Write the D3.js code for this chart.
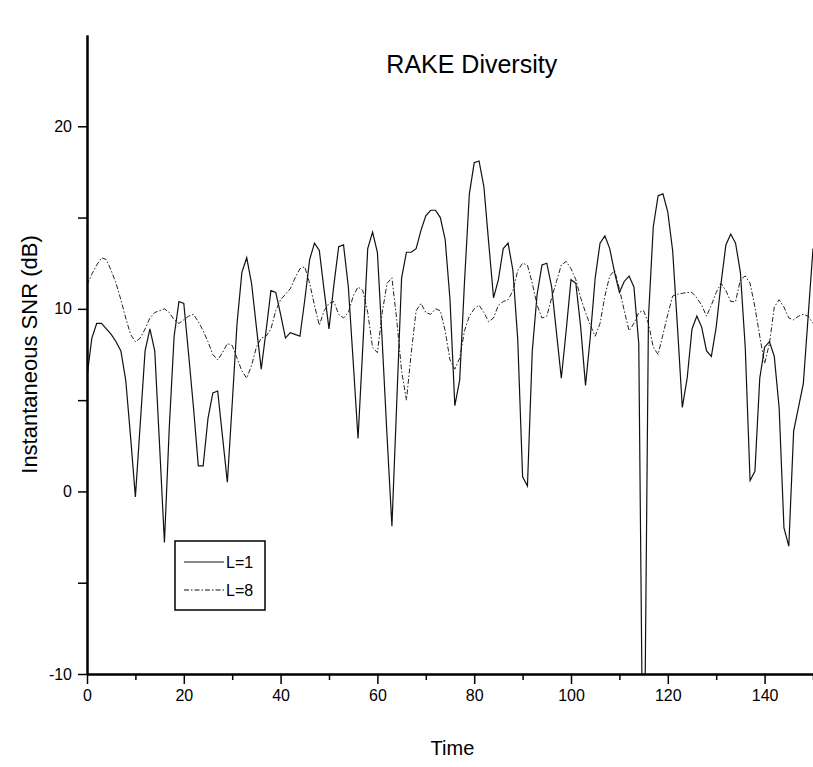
<!DOCTYPE html>
<html>
<head>
<meta charset="utf-8">
<script src="https://cdn.jsdelivr.net/npm/d3@7"></script>
<style>
  body { margin: 0; background: #fff; }
  text { font-family: "Liberation Sans", Arial, sans-serif; fill: #000; }
</style>
</head>
<body>
<div id="my_dataviz"></div>
<script>
// values, one sample per time step (t = 0..150)
var snr_L1 = [6.3, 8.4, 9.2, 9.2, 8.9, 8.6, 8.2, 7.7, 6.1, 3.0,
  -0.3, 3.7, 7.7, 8.9, 7.7, 2.5, -2.8, 3.5, 8.5, 10.4,
  10.3, 7.5, 4.6, 1.4, 1.4, 4.0, 5.4, 5.5, 3.0, 0.5,
  4.8, 9.2, 12.0, 12.8, 11.4, 9.0, 6.7, 8.8, 11.0, 10.9,
  9.7, 8.4, 8.7, 8.6, 8.5, 10.5, 12.7, 13.6, 13.2, 11.0,
  8.9, 11.3, 13.4, 13.5, 11.2, 7.1, 2.9, 8.0, 13.3, 14.2,
  13.1, 8.2, 3.0, -1.9, 4.9, 11.7, 13.1, 13.1, 13.3, 14.3,
  15.1, 15.4, 15.4, 15.0, 13.8, 10.5, 4.7, 6.1, 11.5, 16.3,
  18.0, 18.1, 16.7, 13.6, 10.6, 11.6, 13.3, 13.6, 12.1, 8.3,
  0.8, 0.3, 7.7, 10.8, 12.4, 12.5, 11.2, 8.7, 6.2, 8.8,
  11.6, 11.4, 9.0, 5.8, 8.5, 11.7, 13.6, 14.0, 13.3, 12.0,
  10.9, 11.5, 11.8, 11.2, 8.1, -20.0, 9.5, 14.5, 16.2, 16.3,
  15.3, 13.2, 9.0, 4.6, 6.2, 8.9, 9.6, 9.0, 7.7, 7.4,
  9.0, 11.4, 13.5, 14.1, 13.6, 12.0, 7.9, 0.6, 1.1, 6.2,
  7.9, 8.2, 7.4, 4.6, -2.0, -3.0, 3.3, 4.6, 5.9, 9.6,
  13.3];

var snr_L8 = [11.3, 11.9, 12.4, 12.8, 12.7, 12.1, 11.4, 10.5, 9.5, 8.6,
  8.2, 8.4, 8.9, 9.5, 9.8, 9.9, 10.0, 9.8, 9.4, 9.2,
  9.4, 9.6, 9.7, 9.3, 8.8, 8.2, 7.5, 7.2, 7.6, 8.1,
  8.0, 7.3, 6.6, 6.2, 6.9, 7.9, 8.4, 8.5, 8.9, 9.9,
  10.5, 10.8, 11.1, 11.7, 12.2, 12.3, 11.4, 10.2, 9.1, 9.9,
  10.3, 10.4, 9.7, 9.5, 9.8, 10.7, 11.2, 11.0, 9.8, 7.9,
  7.6, 9.8, 11.4, 11.7, 9.4, 6.6, 5.0, 7.6, 9.9, 10.3,
  9.8, 9.7, 10.0, 9.9, 8.8, 7.2, 6.7, 7.3, 8.8, 9.6,
  10.0, 10.2, 9.8, 9.3, 9.5, 10.2, 10.4, 10.5, 11.0, 12.1,
  12.5, 12.4, 11.4, 10.2, 9.5, 9.6, 10.6, 11.5, 12.4, 12.6,
  12.2, 11.6, 10.6, 9.8, 9.1, 8.5, 9.2, 10.7, 11.8, 12.1,
  11.1, 9.9, 8.8, 9.2, 9.8, 9.9, 9.2, 7.9, 7.5, 8.6,
  9.7, 10.7, 10.8, 10.85, 10.9, 10.9, 10.6, 10.2, 9.6, 10.2,
  10.9, 11.4, 11.0, 10.4, 10.4, 11.6, 11.8, 11.4, 10.1, 8.5,
  7.0, 8.1, 10.1, 10.5, 10.1, 9.5, 9.4, 9.6, 9.7, 9.6,
  9.2];

var xTicks = [0, 20, 40, 60, 80, 100, 120, 140];
var xMinorTicks = [10, 30, 50, 70, 90, 110, 130, 150];
var yTicks = [-10, 0, 10, 20];
var yMinorTicks = [-5, 5, 15];
var seriesNames = ["L=1", "L=8"];

var margin = {top: 35, right: 0, bottom: 93, left: 87},
width = 813 - margin.left - margin.right,
height = 767 - margin.top - margin.bottom;

document.addEventListener('DOMContentLoaded', function () {
   drawChart();
});

function drawChart() {
    var svg = d3.select("#my_dataviz")
    .append("svg")
    .attr("width", width + margin.left + margin.right)
    .attr("height", height + margin.top + margin.bottom)
    .append("g")
    .attr("transform", "translate(" + margin.left + "," + margin.top + ")");

    var x = d3.scaleLinear().domain([0, 150]).range([0, width]);
    var y = d3.scaleLinear().domain([-10, 25]).range([height, 0]);

    svg.append("clipPath").attr("id", "plotclip")
      .append("rect").attr("x", 0).attr("y", 0).attr("width", width).attr("height", height);

    var line = d3.line()
      .x(function(d, i) { return x(i); })
      .y(function(d) { return y(d); });

    // L=8, dash-dot
    svg.append("path")
      .datum(snr_L8)
      .attr("clip-path", "url(#plotclip)")
      .attr("fill", "none")
      .attr("stroke", "#222")
      .attr("stroke-width", 1)
      .attr("stroke-dasharray", "5,2,1.5,2")
      .attr("d", line);

    // L=1, solid
    svg.append("path")
      .datum(snr_L1)
      .attr("clip-path", "url(#plotclip)")
      .attr("fill", "none")
      .attr("stroke", "#111")
      .attr("stroke-width", 1.2)
      .attr("d", line);

    var plain = function(d) { return String(d); };

    // x axis
    var xAxis = svg.append("g")
      .attr("transform", "translate(0," + height + ")")
      .call(d3.axisBottom(x).tickValues(xTicks).tickFormat(plain).tickSize(10).tickPadding(6).tickSizeOuter(0));
    xAxis.append("g")
      .call(d3.axisBottom(x).tickValues(xMinorTicks).tickSize(6).tickFormat("").tickSizeOuter(0));

    // y axis
    var yAxis = svg.append("g")
      .call(d3.axisLeft(y).tickValues(yTicks).tickFormat(plain).tickSize(9).tickPadding(6).tickSizeOuter(0));
    yAxis.append("g")
      .call(d3.axisLeft(y).tickValues(yMinorTicks).tickSize(9).tickFormat("").tickSizeOuter(0));

    svg.selectAll(".domain").attr("stroke", "#000").attr("stroke-width", 2);
    svg.selectAll(".tick line").attr("stroke", "#000").attr("stroke-width", 1.5);
    svg.selectAll(".tick text")
      .style("font-family", '"Liberation Sans", Arial, sans-serif')
      .style("font-size", "16px");

    // title and labels
    svg.append("text")
      .attr("x", x(79.5))
      .attr("y", 38)
      .attr("text-anchor", "middle")
      .style("font-size", "25px")
      .text("RAKE Diversity");

    svg.append("text")
      .attr("transform", "translate(-50," + y(7.5) + ") rotate(-90)")
      .attr("text-anchor", "middle")
      .style("font-size", "22px")
      .text("Instantaneous SNR (dB)");

    svg.append("text")
      .attr("x", x(75.5))
      .attr("y", height + 81)
      .attr("text-anchor", "middle")
      .style("font-size", "20px")
      .text("Time");

    // legend
    var lg = svg.append("g").attr("transform", "translate(" + (175 - margin.left) + "," + (541 - margin.top) + ")");
    lg.append("rect")
      .attr("width", 90).attr("height", 69)
      .attr("fill", "#fff").attr("stroke", "#000").attr("stroke-width", 1.5);
    var dashes = [null, "5,2,1.5,2"];
    seriesNames.forEach(function(name, i) {
        var ly = 21 + i * 28;
        lg.append("line")
          .attr("x1", 9).attr("x2", 49).attr("y1", ly).attr("y2", ly)
          .attr("stroke", "#111").attr("stroke-width", 1)
          .attr("stroke-dasharray", dashes[i]);
        lg.append("text")
          .attr("x", 51).attr("y", ly + 6)
          .style("font-size", "16px")
          .text(name);
    });
}
</script>
</body>
</html>
